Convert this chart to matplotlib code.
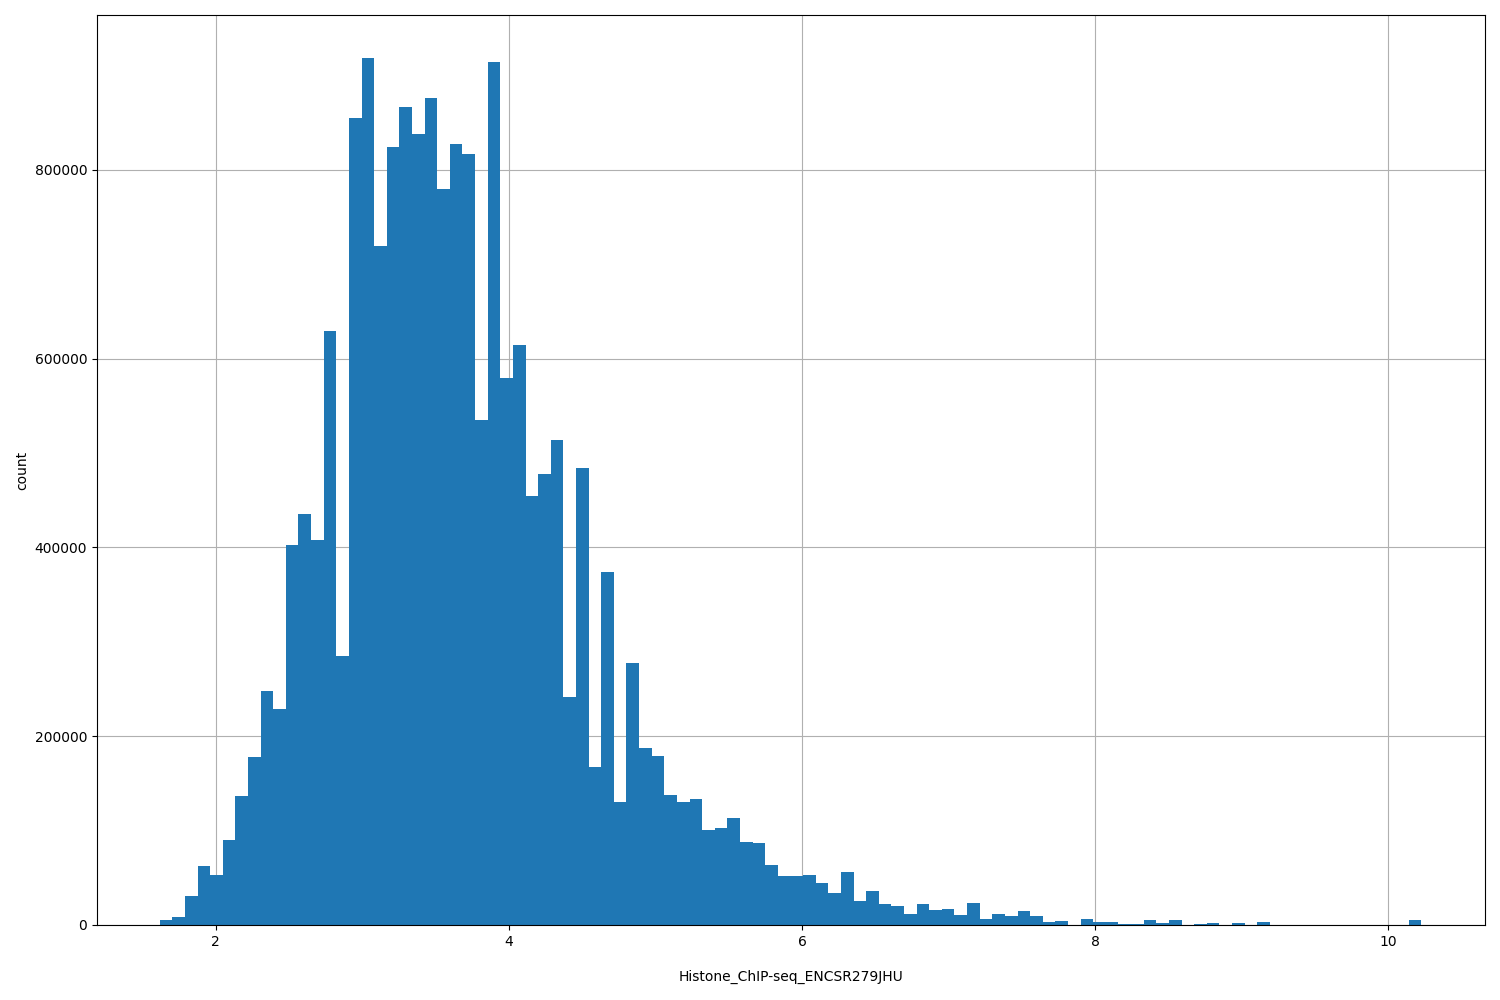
import numpy as np
import matplotlib
matplotlib.use("Agg")
import matplotlib.pyplot as plt

x_min, x_max, n_bins = 1.618, 10.225, 100
counts = [5000, 9000, 31000, 62000, 53000, 90000, 137000, 178000, 248000, 229000,
          403000, 435000, 408000, 629000, 285000, 855000, 918000, 719000, 824000, 866000,
          838000, 876000, 780000, 827000, 817000, 535000, 914000, 579000, 614000, 454000,
          478000, 514000, 241000, 484000, 167000, 374000, 130000, 278000, 188000, 179000,
          138000, 130000, 133000, 101000, 103000, 113000, 88000, 87000, 64000, 52000,
          52000, 53000, 44000, 34000, 56000, 25000, 36000, 22000, 20000, 12000,
          22000, 16000, 17000, 11000, 23000, 6000, 12000, 10000, 15000, 10000,
          3000, 4000, 0, 6000, 3000, 3000, 1000, 1000, 5000, 2000,
          5000, 0, 1000, 2000, 0, 2000, 0, 3000, 0, 0,
          0, 0, 0, 0, 0, 0, 0, 0, 0, 5000]

edges = np.linspace(x_min, x_max, n_bins + 1)
centers = (edges[:-1] + edges[1:]) / 2

fig = plt.figure(figsize=(15, 10), dpi=100)
ax = fig.add_axes([97/1500, 75/1000, (1485-97)/1500, (925-15)/1000])
ax.hist(centers, bins=edges, weights=counts, color="#1f77b4", zorder=2)
ax.grid(True, color="#b0b0b0", zorder=0)
ax.set_axisbelow(True)
ax.set_xlabel("Histone_ChIP-seq_ENCSR279JHU", labelpad=15)
ax.set_ylabel("count")
ax.set_xlim(1.19, 10.66)
ax.set_xticks([2, 4, 6, 8, 10])
ax.set_yticks([0, 200000, 400000, 600000, 800000])
fig.savefig("out.png")
